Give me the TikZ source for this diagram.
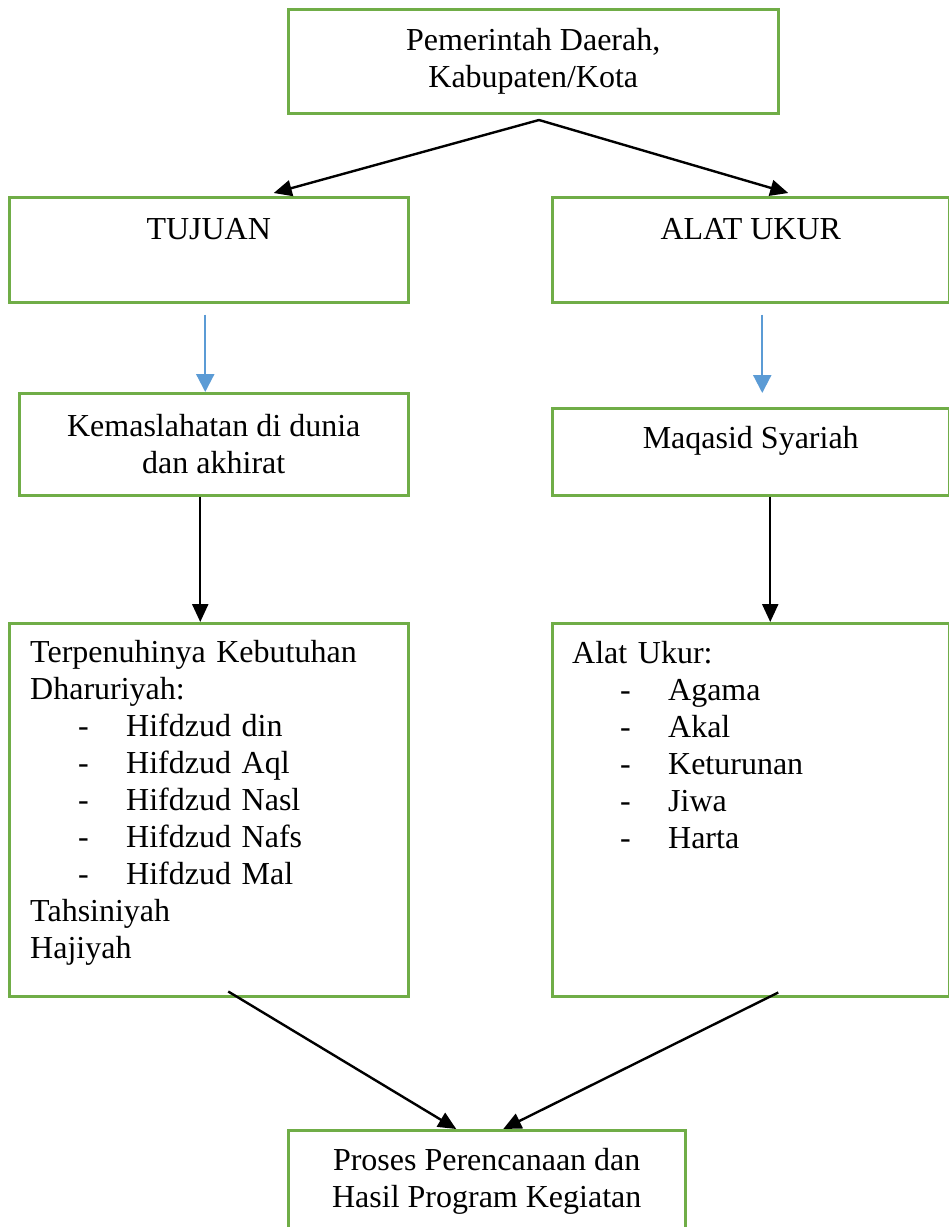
\documentclass[tikz,border=0pt]{standalone}
\usepackage{fontspec}
\setmainfont{Liberation Serif}
\usetikzlibrary{arrows.meta}
\definecolor{boxgreen}{HTML}{70AD47}
\definecolor{arrowblue}{HTML}{5B9BD5}
\newcommand{\boxfont}{\fontsize{32}{37}\selectfont}
\newcommand{\listdash}[1]{\hspace*{48pt}\makebox[48pt][l]{-}#1}

\begin{document}
\begin{tikzpicture}[x=1pt,y=-1pt,
    gbox/.style={draw=boxgreen, line width=2.5pt, inner sep=0pt, anchor=north west, align=center, font=\boxfont},
    listtext/.style={inner sep=0pt, anchor=north west, align=left, text width=360pt, font=\boxfont},
    blackarrow/.style={draw=black, line width=2.4pt, -{Triangle[length=18pt,width=16pt]}},
    bluearrow/.style={draw=arrowblue, line width=2.2pt, -{Triangle[length=18pt,width=18pt]}}]
    \useasboundingbox (0,0) rectangle (949,1227);
    \clip (0,0) rectangle (949,1227);

    \node[gbox, minimum width=490pt, minimum height=104pt] (gov) at (287,8) {Pemerintah Daerah,\\ Kabupaten/Kota};

    \node[gbox, minimum width=399pt, text height=42pt, text depth=63pt] (tujuan) at (8,196) {TUJUAN};
    \node[gbox, minimum width=397pt, text height=42pt, text depth=63pt] (alat) at (551,196) {ALAT UKUR};

    \node[gbox, minimum width=389pt, minimum height=102pt] (kemas) at (18,392) {Kemaslahatan di dunia\\ dan akhirat};
    \node[gbox, minimum width=397pt, text height=40pt, text depth=47pt] (maqasid) at (551,407) {Maqasid Syariah};

    \node[gbox, minimum width=399pt, minimum height=373pt] (dharbox) at (8,622) {};
    \node[gbox, minimum width=397pt, minimum height=373pt] (ukurbox) at (551,622) {};
    \node[listtext] (dhartext) at ([shift={(22,18)}]dharbox.north west) {Terpenuhinya Kebutuhan\\ Dharuriyah:\\
        \listdash{Hifdzud din}\\ \listdash{Hifdzud Aql}\\ \listdash{Hifdzud Nasl}\\
        \listdash{Hifdzud Nafs}\\ \listdash{Hifdzud Mal}\\ Tahsiniyah\\ Hajiyah};
    \node[listtext] (ukurtext) at ([shift={(21,19)}]ukurbox.north west) {Alat Ukur:\\
        \listdash{Agama}\\ \listdash{Akal}\\ \listdash{Keturunan}\\ \listdash{Jiwa}\\ \listdash{Harta}};

    \node[gbox, minimum width=397pt, minimum height=102pt] (proses) at (287,1129) {Proses Perencanaan dan\\ Hasil Program Kegiatan};

    \coordinate (apex) at (539,120);
    \draw[blackarrow] (apex) -- ([xshift=65pt,yshift=3pt]tujuan.north);
    \draw[blackarrow] (apex) -- ([xshift=37.5pt,yshift=3pt]alat.north);

    \draw[bluearrow] ([xshift=-3.5pt,yshift=-11pt]tujuan.south) -- ([xshift=-3.5pt]tujuan.south |- kemas.north);
    \draw[bluearrow] ([xshift=11.5pt,yshift=-11pt]alat.south) -- ([xshift=11.5pt,yshift=14pt]alat.south |- maqasid.north);

    \draw[blackarrow] ([xshift=-13.5pt]kemas.south) -- ([xshift=-13.5pt]kemas.south |- dharbox.north);
    \draw[blackarrow] ([xshift=19.5pt]maqasid.south) -- ([xshift=19.5pt]maqasid.south |- ukurbox.north);

    \draw[blackarrow] ([xshift=19.5pt,yshift=6pt]dharbox.south) -- ([xshift=-30.5pt]proses.north);
    \draw[blackarrow] ([xshift=27.5pt,yshift=5pt]ukurbox.south) -- ([xshift=16.5pt]proses.north);
\end{tikzpicture}
\end{document}
